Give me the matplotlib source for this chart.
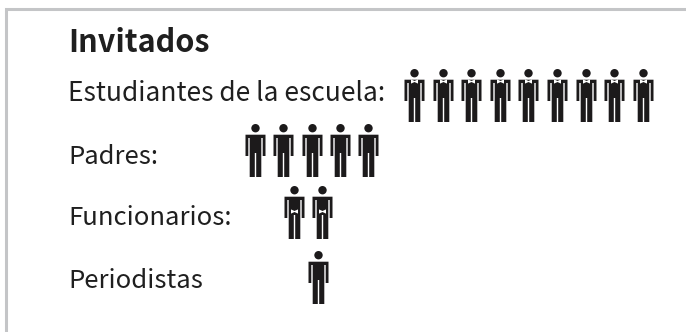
import matplotlib
matplotlib.use("Agg")
import matplotlib.pyplot as plt
from matplotlib.path import Path

title = "Invitados"
categories = ["Estudiantes de la escuela:", "Padres:", "Funcionarios:", "Periodistas"]
counts = [9, 5, 2, 1]

W, H = 686, 332
DPI = 100
FONT = ["Noto Sans CJK SC", "DejaVu Sans"]
TEXT = "#1f1f1f"
ICON = "#1c1a1b"

label_y = [101, 163.5, 225, 288]
label_fs = [19, 18.4, 18.5, 18.5]
row_y = [95, 149.5, 212, 276.5]
row_x0 = [414, 255, 294, 318]
row_dx = [28.6, 28.3, 27.5, 28]
tie_dy = [-14.5, None, -1, None]


def person_marker():
    hh = 26.5
    head = Path.circle((0, hh - 4.2), 4.2)
    body = [
        (-10, hh - 10.7), (10, hh - 10.7), (10, hh - 32), (7.2, hh - 32),
        (7.2, hh - 14), (5.8, hh - 14), (5.8, hh - 53), (0.7, hh - 53),
        (0.7, hh - 29), (-0.7, hh - 29), (-0.7, hh - 53), (-5.8, hh - 53),
        (-5.8, hh - 14), (-7.2, hh - 14), (-7.2, hh - 32), (-10, hh - 32),
        (-10, hh - 10.7),
    ]
    codes = [Path.MOVETO] + [Path.LINETO] * (len(body) - 2) + [Path.CLOSEPOLY]
    return Path.make_compound_path(head, Path(body, codes))


def tie_marker():
    v = [(-1, 0.6), (0, 0.15), (1, 0.6), (1, -0.6), (0, -0.15), (-1, -0.6), (-1, 0.6)]
    return Path(v, [Path.MOVETO] + [Path.LINETO] * 5 + [Path.CLOSEPOLY])


fig = plt.figure(figsize=(W / DPI, H / DPI), dpi=DPI, facecolor="white")
ax = fig.add_axes([0, 0, 1, 1])
ax.set_xlim(0, W)
ax.set_ylim(H, 0)
ax.axis("off")

# frame: top and left only
ax.plot([5.5, 5.5, W], [H, 8.7, 8.7], color="#c4c5c7", lw=2.2, solid_joinstyle="miter")

ax.text(68, 51.5, title, family=FONT, fontsize=22, fontweight="bold", color=TEXT, va="baseline")

person = person_marker()
tie = tie_marker()
size = (53 * 72 / DPI) ** 2
for name, n, ly, fs, y, x0, dx, td in zip(categories, counts, label_y, label_fs, row_y, row_x0, row_dx, tie_dy):
    ax.text(68, ly, name, family=FONT, fontsize=fs, color=TEXT, va="baseline")
    xs = [x0 + i * dx for i in range(n)]
    ax.scatter(xs, [y] * n, marker=person, s=size, color=ICON, linewidths=0, zorder=3)
    if td is not None:
        ax.scatter(xs, [y + td] * n, marker=tie, s=(7 * 72 / DPI) ** 2, color="white", linewidths=0, zorder=4)

fig.savefig("out.png", dpi=DPI, facecolor="white")
